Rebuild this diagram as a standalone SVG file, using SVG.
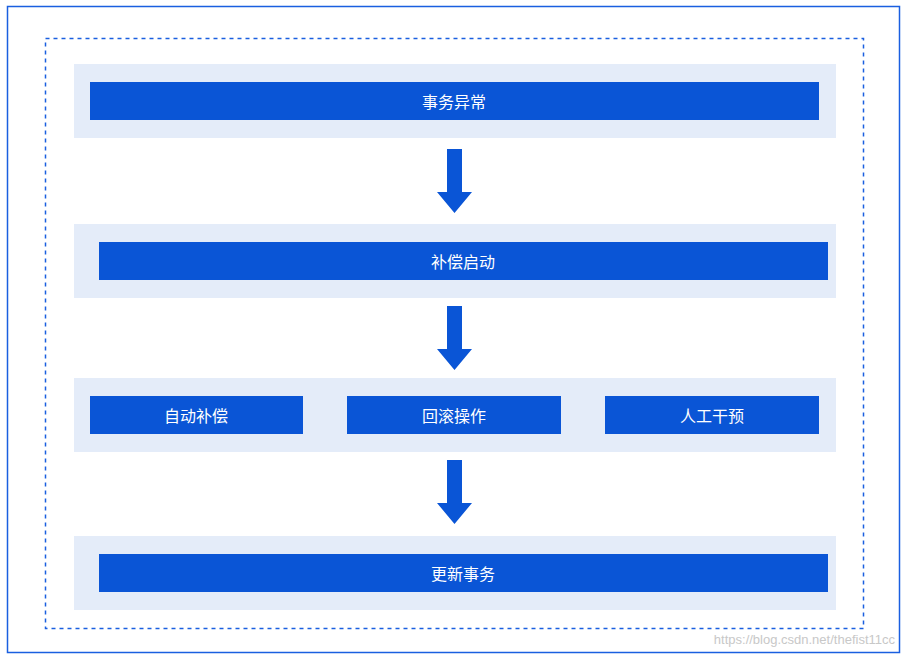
<svg xmlns="http://www.w3.org/2000/svg" width="906" height="659" viewBox="0 0 906 659">
<style>
.band{fill:#e4ecf9}
.bar{fill:#0a55d6}
.t{font-family:"Noto Sans CJK SC","Noto Sans",sans-serif;font-size:16px;fill:#fff;text-anchor:middle;dominant-baseline:central}
.arr{fill:#0a55d6}
</style>
<rect x="0" y="0" width="906" height="659" fill="#fff"/>
<rect x="7.5" y="6.5" width="892" height="646" fill="none" stroke="#1a5fe0" stroke-width="1.5"/>
<rect x="45.5" y="38.5" width="818" height="590" fill="none" stroke="#1a5fe0" stroke-width="1.5" stroke-dasharray="4,4"/>
<g id="n1"><rect class="band" x="74" y="64" width="762" height="74"/><rect class="bar" x="90" y="82" width="729" height="38"/><text class="t" x="454" y="101">事务异常</text></g>
<g id="n2"><rect class="band" x="74" y="224" width="762" height="74"/><rect class="bar" x="99" y="242" width="729" height="38"/><text class="t" x="463" y="261">补偿启动</text></g>
<g id="n3"><rect class="band" x="74" y="378" width="762" height="74"/>
<rect class="bar" x="90" y="396" width="213" height="38"/><text class="t" x="196" y="415">自动补偿</text>
<rect class="bar" x="347" y="396" width="214" height="38"/><text class="t" x="454" y="415">回滚操作</text>
<rect class="bar" x="605" y="396" width="214" height="38"/><text class="t" x="712" y="415">人工干预</text></g>
<g id="n4"><rect class="band" x="74" y="536" width="762" height="74"/><rect class="bar" x="99" y="554" width="729" height="38"/><text class="t" x="463" y="573">更新事务</text></g>
<g id="connectors">
<polygon class="arr" points="447,149 462,149 462,192 472,192 454.5,213 437,192 447,192"/>
<polygon class="arr" points="447,306 462,306 462,349 472,349 454.5,370 437,349 447,349"/>
<polygon class="arr" points="447,460 462,460 462,503 472,503 454.5,524 437,503 447,503"/>
</g>
<text x="895" y="644" font-family="Liberation Sans,sans-serif" font-size="13" fill="#c8c8c8" text-anchor="end">https://blog.csdn.net/thefist11cc</text>
</svg>
